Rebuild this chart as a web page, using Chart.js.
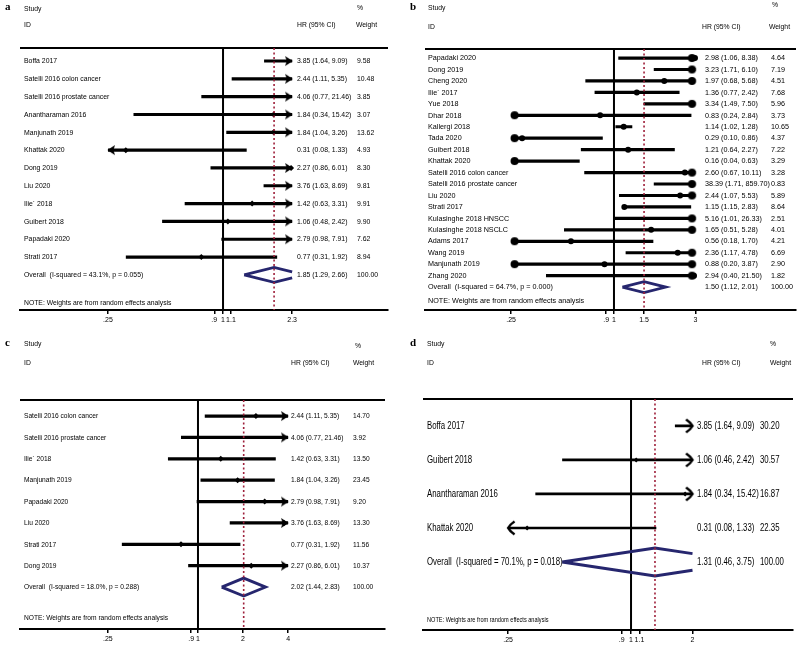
<!DOCTYPE html>
<html>
<head>
<meta charset="utf-8">
<script src="https://cdn.jsdelivr.net/npm/chart.js@4.4.1/dist/chart.umd.min.js"></script>
<style>
  html, body { margin: 0; padding: 0; background: #fff; }
  #wrap { position: relative; width: 800px; height: 646px; overflow: hidden; }
  canvas { position: absolute; }
</style>
</head>
<body>
<div id="wrap">
  <canvas id="pa" width="400" height="330" style="left:0;top:0"></canvas>
  <canvas id="pb" width="400" height="330" style="left:400px;top:0"></canvas>
  <canvas id="pc" width="400" height="316" style="left:0;top:330px"></canvas>
  <canvas id="pd" width="400" height="316" style="left:400px;top:330px"></canvas>
</div>
<script>
// ---- panel a ----
const studiesA = ['Boffa 2017', 'Satelli 2016 colon cancer', 'Satelli 2016 prostate cancer', 'Anantharaman 2016',
  'Manjunath 2019', 'Khattak 2020', 'Dong 2019', 'Liu 2020', 'Ilie´ 2018', 'Guibert 2018', 'Papadaki 2020', 'Strati 2017'];
const hrA = [3.85, 2.44, 4.06, 1.84, 1.84, 0.31, 2.27, 3.76, 1.42, 1.06, 2.79, 0.77];
const loA = [1.64, 1.11, 0.77, 0.34, 1.04, 0.08, 0.86, 1.63, 0.63, 0.48, 0.98, 0.31];
const hiA = [9.09, 5.35, 21.46, 15.42, 3.26, 1.33, 6.01, 8.69, 3.31, 2.42, 7.91, 1.92];
const weightA = [9.58, 10.48, 3.85, 3.07, 13.62, 4.93, 8.30, 9.81, 9.91, 9.90, 7.62, 8.94];
const overallA = [1.85, 1.29, 2.66];
const overallLabelA = 'Overall  (I-squared = 43.1%, p = 0.055)';
const ticksA = [0.25, 0.9, 1, 1.1, 2.3];
const tickLabelsA = ['.25', '.9', '1', '1.1', '2.3'];

// ---- panel b ----
const studiesB = ['Papadaki 2020', 'Dong 2019', 'Cheng 2020', 'Ilie´ 2017', 'Yue 2018', 'Dhar 2018', 'Kallergi 2018',
  'Tada 2020', 'Guibert 2018', 'Khattak 2020', 'Satelli 2016 colon cancer', 'Satelli 2016 prostate cancer', 'Liu 2020',
  'Strati 2017', 'Kulasinghe 2018 HNSCC', 'Kulasinghe 2018 NSCLC', 'Adams 2017', 'Wang 2019', 'Manjunath 2019', 'Zhang 2020'];
const hrB = [2.98, 3.23, 1.97, 1.36, 3.34, 0.83, 1.14, 0.29, 1.21, 0.16, 2.60, 38.39, 2.44, 1.15, 5.16, 1.65, 0.56, 2.36, 0.88, 2.94];
const loB = [1.06, 1.71, 0.68, 0.77, 1.49, 0.24, 1.02, 0.10, 0.64, 0.04, 0.67, 1.71, 1.07, 1.15, 1.01, 0.51, 0.18, 1.17, 0.20, 0.40];
const hiB = [8.38, 6.10, 5.68, 2.42, 7.50, 2.84, 1.28, 0.86, 2.27, 0.63, 10.11, 859.70, 5.53, 2.83, 26.33, 5.28, 1.70, 4.78, 3.87, 21.50];
const weightB = [4.64, 7.19, 4.51, 7.68, 5.96, 3.73, 10.65, 4.37, 7.22, 3.29, 3.28, 0.83, 5.89, 8.64, 2.51, 4.01, 4.21, 6.69, 2.90, 1.82];
const overallB = [1.50, 1.12, 2.01];
const overallLabelB = 'Overall  (I-squared = 64.7%, p = 0.000)';
const ticksB = [0.25, 0.9, 1, 1.5, 3];
const tickLabelsB = ['.25', '.9', '1', '1.5', '3'];

// ---- panel c ----
const studiesC = ['Satelli 2016 colon cancer', 'Satelli 2016 prostate cancer', 'Ilie´ 2018', 'Manjunath 2019',
  'Papadaki 2020', 'Liu 2020', 'Strati 2017', 'Dong 2019'];
const hrC = [2.44, 4.06, 1.42, 1.84, 2.79, 3.76, 0.77, 2.27];
const loC = [1.11, 0.77, 0.63, 1.04, 0.98, 1.63, 0.31, 0.86];
const hiC = [5.35, 21.46, 3.31, 3.26, 7.91, 8.69, 1.92, 6.01];
const weightC = [14.70, 3.92, 13.50, 23.45, 9.20, 13.30, 11.56, 10.37];
const overallC = [2.02, 1.44, 2.83];
const overallLabelC = 'Overall  (I-squared = 18.0%, p = 0.288)';
const ticksC = [0.25, 0.9, 1, 2, 4];
const tickLabelsC = ['.25', '.9', '1', '2', '4'];

// ---- panel d ----
const studiesD = ['Boffa 2017', 'Guibert 2018', 'Anantharaman 2016', 'Khattak 2020'];
const hrD = [3.85, 1.06, 1.84, 0.31];
const loD = [1.64, 0.46, 0.34, 0.08];
const hiD = [9.09, 2.42, 15.42, 1.33];
const weightD = [30.20, 30.57, 16.87, 22.35];
const overallD = [1.31, 0.46, 3.75];
const overallLabelD = 'Overall  (I-squared = 70.1%, p = 0.018)';
const ticksD = [0.25, 0.9, 1, 1.1, 2];
const tickLabelsD = ['.25', '.9', '1', '1.1', '2'];

const NOTE = 'NOTE: Weights are from random effects analysis';
const SANS = '"Liberation Sans", Arial, sans-serif';

// small arrow-head pictures, tip at the centre of the image
function arrowImage(kind) {
  const c = document.createElement('canvas');
  c.width = 22; c.height = 22;
  const g = c.getContext('2d');
  g.fillStyle = '#000';
  g.strokeStyle = '#000';
  if (kind === 'filled') {
    g.beginPath();
    g.moveTo(11.5, 11); g.lineTo(4, 6); g.lineTo(5.5, 11); g.lineTo(4, 16);
    g.closePath(); g.fill();
  } else if (kind === 'dot') {
    g.beginPath(); g.arc(7.5, 11, 4, 0, Math.PI * 2); g.fill();
  } else {
    g.lineWidth = 2.4;
    g.beginPath();
    g.moveTo(4.5, 4.5); g.quadraticCurveTo(9, 7.5, 11, 11); g.quadraticCurveTo(9, 14.5, 4.5, 17.5);
    g.stroke();
  }
  return c;
}

function drawText(ctx, s, x, y, size, sx, family) {
  ctx.save();
  ctx.translate(x, y);
  ctx.scale(sx, 1);
  ctx.font = size + 'px ' + (family || SANS);
  ctx.textBaseline = 'middle';
  ctx.fillStyle = '#000';
  ctx.fillText(s, 0, 0);
  ctx.restore();
}

// clip a segment to [tmin, tmax] in log-x
function clipSeg(a, b, tmin, tmax) {
  const la = Math.log(a.x), lb = Math.log(b.x), l0 = Math.log(tmin), l1 = Math.log(tmax);
  const d = lb - la;
  let t0 = 0, t1 = 1;
  if (d === 0) {
    if (la < l0 || la > l1) return null;
  } else {
    let ta = (l0 - la) / d, tb = (l1 - la) / d;
    if (ta > tb) [ta, tb] = [tb, ta];
    t0 = Math.max(t0, ta); t1 = Math.min(t1, tb);
    if (t0 >= t1) return null;
  }
  const at = t => ({ x: Math.exp(la + d * t), y: a.y + (b.y - a.y) * t });
  return [at(t0), at(t1)];
}

function makePanel(p) {
  const n = p.studies.length;
  const tmin = p.ticks[0], tmax = p.ticks[p.ticks.length - 1];
  const arrow = arrowImage(p.arrow);

  // confidence interval lines, clipped with arrow markers
  const ci = [];
  p.lo.forEach((l, i) => {
    ci.push({ x: Math.max(l, tmin), y: i, arrow: l < tmin ? 'left' : null });
    ci.push({ x: Math.min(p.hi[i], tmax), y: i, arrow: p.hi[i] > tmax ? 'right' : null });
    ci.push({ x: 1, y: null });
  });

  const pts = p.hr.map((h, i) => ({ x: h, y: i })).filter(d => d.x >= tmin && d.x <= tmax);

  // overall diamond
  const [ov, ovLo, ovHi] = p.overall;
  const h = p.dHalf;
  const poly = [{ x: ovLo, y: n }, { x: ov, y: n - h }, { x: ovHi, y: n }, { x: ov, y: n + h }, { x: ovLo, y: n }];
  const dia = [];
  let last = null;
  for (let i = 0; i < poly.length - 1; i++) {
    const s = clipSeg(poly[i], poly[i + 1], tmin, tmax);
    if (!s) { last = null; continue; }
    if (!last || Math.abs(last.x - s[0].x) > 1e-9 || Math.abs(last.y - s[0].y) > 1e-9) {
      if (dia.length) dia.push({ x: 1, y: null });
      dia.push(s[0]);
    }
    dia.push(s[1]);
    last = s[1];
  }

  const textPlugin = {
    id: 'forestText',
    afterDraw(chart) {
      const ctx = chart.ctx;
      const ys = chart.scales.y;
      const f = p.font;
      ctx.save();
      ctx.font = 'bold 11px "Liberation Serif", serif';
      ctx.textBaseline = 'middle';
      ctx.fillStyle = '#000';
      ctx.fillText(p.letter, p.head.letter[0], p.head.letter[1]);
      ctx.restore();
      const hf = p.headFont;
      drawText(ctx, 'Study', p.head.study[0], p.head.study[1], hf.size, hf.sx);
      drawText(ctx, '%', p.head.pct[0], p.head.pct[1], hf.size, hf.sx);
      drawText(ctx, 'ID', p.head.id[0], p.head.id[1], hf.size, hf.sx);
      drawText(ctx, 'HR (95% CI)', p.head.hr[0], p.head.hr[1], hf.size, hf.sx);
      drawText(ctx, 'Weight', p.head.wt[0], p.head.wt[1], hf.size, hf.sx);
      p.studies.forEach((s, i) => {
        const y = ys.getPixelForValue(i);
        drawText(ctx, s, p.cols.name, y, f.size, f.sx);
        drawText(ctx, p.hr[i].toFixed(2) + ' (' + p.lo[i].toFixed(2) + ', ' + p.hi[i].toFixed(2) + ')', p.cols.hr, y, f.size, f.sx);
        drawText(ctx, p.weight[i].toFixed(2), p.cols.weight, y, f.size, f.sx);
      });
      const yo = ys.getPixelForValue(n);
      drawText(ctx, p.overallLabel, p.cols.name, yo, f.size, f.sx);
      drawText(ctx, ov.toFixed(2) + ' (' + ovLo.toFixed(2) + ', ' + ovHi.toFixed(2) + ')', p.cols.hr, yo, f.size, f.sx);
      drawText(ctx, '100.00', p.cols.weight, yo, f.size, f.sx);
      drawText(ctx, NOTE, p.cols.name, p.noteY, p.noteFont.size, p.noteFont.sx);
    }
  };

  new Chart(document.getElementById(p.id), {
    type: 'scatter',
    data: {
      datasets: [
        { // overall estimate, dashed
          data: [{ x: ov, y: p.rowTop }, { x: ov, y: p.rowBottom }],
          showLine: true, borderColor: '#9e1f3a', borderWidth: 1.6, borderDash: [2, 2.5],
          pointRadius: 0, clip: false
        },
        { // diamond
          data: dia, showLine: true, borderColor: '#26266e', borderWidth: p.diaWidth,
          pointRadius: 0, spanGaps: false
        },
        { // study estimates
          data: pts, pointStyle: p.marker.style, pointRadius: p.marker.r,
          backgroundColor: '#000', borderColor: '#000', borderWidth: 0
        },
        { // confidence intervals
          data: ci, showLine: true, spanGaps: false, borderColor: '#000', borderWidth: p.ciWidth,
          borderCapStyle: 'butt',
          pointStyle: c => (c.raw && c.raw.arrow) ? arrow : 'circle',
          pointRadius: c => (c.raw && c.raw.arrow) ? 6 : 0,
          pointRotation: c => (c.raw && c.raw.arrow === 'left') ? 180 : 0,
          pointBackgroundColor: '#000', pointBorderWidth: 0
        },
        { // null line at 1
          data: [{ x: 1, y: p.rowTop }, { x: 1, y: p.rowBottom }],
          showLine: true, borderColor: '#000', borderWidth: 2, pointRadius: 0, clip: false
        },
        { // header rule
          data: [{ x: p.xMin, y: p.rowTop }, { x: p.xMax, y: p.rowTop }],
          showLine: true, borderColor: '#000', borderWidth: 2, pointRadius: 0, clip: false
        }
      ]
    },
    options: {
      responsive: false,
      animation: false,
      events: [],
      layout: { padding: p.pad },
      plugins: { legend: { display: false }, tooltip: { enabled: false } },
      scales: {
        x: {
          type: 'logarithmic',
          min: p.xMin, max: p.xMax,
          bounds: 'data', offset: false,
          afterBuildTicks: s => { s.ticks = p.ticks.map(v => ({ value: v })); },
          afterFit: s => { s.height = 17; },
          ticks: {
            autoSkip: false, maxRotation: 0, minRotation: 0, padding: 2,
            color: '#000', font: { family: SANS, size: p.tickSize },
            callback: (v, i) => p.tickLabels[i]
          },
          grid: { display: true, drawOnChartArea: false, drawTicks: true, tickLength: 4, color: '#000', lineWidth: 1.5 },
          border: { display: true, color: '#000', width: 2 }
        },
        y: {
          type: 'linear', reverse: true, display: false,
          min: p.rowTop, max: p.rowBottom
        }
      }
    },
    plugins: [textPlugin]
  });
}

makePanel({
  id: 'pa', letter: 'a', studies: studiesA, hr: hrA, lo: loA, hi: hiA, weight: weightA,
  overall: overallA, overallLabel: overallLabelA, ticks: ticksA, tickLabels: tickLabelsA,
  xMin: 0.0866, xMax: 7.30, rowTop: -0.73, rowBottom: 13.97,
  pad: { left: 20, right: 12, top: 48, bottom: 3 },
  cols: { name: 24, hr: 297, weight: 357 },
  head: { letter: [5, 7], study: [24, 9], pct: [357, 8], id: [24, 25], hr: [297, 25], wt: [356, 25] },
  font: { size: 8, sx: 0.86 }, headFont: { size: 8, sx: 0.85 }, noteFont: { size: 8, sx: 0.85 }, noteY: 303,
  arrow: 'filled', marker: { style: 'rectRot', r: 3 }, ciWidth: 3.2, diaWidth: 2.8, dHalf: 0.42, tickSize: 7
});

makePanel({
  id: 'pb', letter: 'b', studies: studiesB, hr: hrB, lo: loB, hi: hiB, weight: weightB,
  overall: overallB, overallLabel: overallLabelB, ticks: ticksB, tickLabels: tickLabelsB,
  xMin: 0.0783, xMax: 11.63, rowTop: -0.79, rowBottom: 22.0,
  pad: { left: 25, right: 0, top: 49, bottom: 3 },
  cols: { name: 28, hr: 305, weight: 371 },
  head: { letter: [10, 7], study: [28, 8], pct: [372, 5], id: [28, 27], hr: [302, 27], wt: [369, 27] },
  font: { size: 8, sx: 0.9 }, headFont: { size: 8, sx: 0.85 }, noteFont: { size: 8, sx: 0.9 }, noteY: 301,
  arrow: 'dot', marker: { style: 'circle', r: 3 }, ciWidth: 3.2, diaWidth: 2.8, dHalf: 0.48, tickSize: 7
});

makePanel({
  id: 'pc', letter: 'c', studies: studiesC, hr: hrC, lo: loC, hi: hiC, weight: weightC,
  overall: overallC, overallLabel: overallLabelC, ticks: ticksC, tickLabels: tickLabelsC,
  xMin: 0.0647, xMax: 17.76, rowTop: -0.75, rowBottom: 9.96,
  pad: { left: 20, right: 15, top: 70, bottom: 0 },
  cols: { name: 24, hr: 291, weight: 353 },
  head: { letter: [5, 13], study: [24, 14], pct: [355, 16], id: [24, 33], hr: [291, 33], wt: [353, 33] },
  font: { size: 8, sx: 0.83 }, headFont: { size: 8, sx: 0.85 }, noteFont: { size: 8, sx: 0.83 }, noteY: 288,
  arrow: 'filled', marker: { style: 'rectRot', r: 3 }, ciWidth: 3.2, diaWidth: 2.8, dHalf: 0.42, tickSize: 7
});

makePanel({
  id: 'pd', letter: 'd', studies: studiesD, hr: hrD, lo: loD, hi: hiD, weight: weightD,
  overall: overallD, overallLabel: overallLabelD, ticks: ticksD, tickLabels: tickLabelsD,
  xMin: 0.0958, xMax: 6.21, rowTop: -0.79, rowBottom: 6.0,
  pad: { left: 23, right: 7, top: 69, bottom: -1 },
  cols: { name: 27, hr: 297, weight: 360 },
  head: { letter: [10, 13], study: [27, 14], pct: [370, 14], id: [27, 33], hr: [302, 33], wt: [370, 33] },
  font: { size: 11.5, sx: 0.68 }, headFont: { size: 8, sx: 0.85 }, noteFont: { size: 7, sx: 0.8 }, noteY: 290,
  arrow: 'open', marker: { style: 'rectRot', r: 2.5 }, ciWidth: 2.6, diaWidth: 3, dHalf: 0.41, tickSize: 7
});
</script>
</body>
</html>
